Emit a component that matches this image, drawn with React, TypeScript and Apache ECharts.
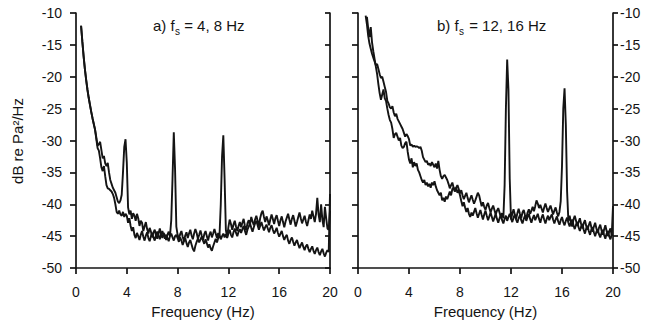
import React, { useEffect, useRef } from "react";
import * as echarts from "echarts";

// Frequency bins (Hz): 0.4 .. 20.0 in 0.1 Hz steps
const freq: number[] = [];
for (let i = 0; i < 197; i++) freq.push(Math.round((0.4 + 0.1 * i) * 10) / 10);

const xTicks = [0, 4, 8, 12, 16, 20];
const yTicks = [-50, -45, -40, -35, -30, -25, -20, -15, -10];

// Panel a) fs = 4, 8 Hz
const panelA1: (number | null)[] = [
  -12.0, -14.5, -16.8, -18.8, -20.5, -22.0,
  -23.3, -24.4, -25.5, -26.5, -27.4, -28.3, -29.5, -30.8, -30.6, -30.2,
  -31.5, -32.8, -32.4, -33.6, -34.0, -33.5, -35.0, -36.2, -36.8, -37.4,
  -37.8, -38.2, -38.9, -39.6, -39.8, -39.4, -38.5, -35.0, -31.0, -29.8,
  -33.5, -40.5, -41.6, -41.0, -42.3, -41.4, -41.8, -42.6, -41.5, -42.2,
  -43.4, -42.6, -42.9, -44.2, -43.5, -42.8, -43.9, -44.6, -43.7, -44.3,
  -45.2, -44.4, -44.0, -44.9, -45.4, -44.6, -43.8, -44.7, -45.3, -44.5,
  -44.9, -45.6, -44.8, -44.3, -45.0, -42.5, -36.0, -28.7, -34.5, -43.5,
  -44.8, -45.5, -44.7, -44.2, -45.1, -45.8, -44.9, -44.4, -45.3, -44.6,
  -44.0, -44.9, -45.5, -44.6, -43.9, -44.5, -45.4, -44.8, -44.1, -44.9,
  -45.6, -44.7, -44.2, -45.0, -45.7, -44.8, -44.3, -45.2, -44.6, -43.9,
  -44.6, -45.3, -44.5, -44.9, -40.0, -32.5, -29.2, -36.0, -44.0, -45.2,
  -43.6, -42.4, -43.1, -44.0, -43.2, -42.6, -43.5, -44.2, -43.4, -42.8,
  -43.6, -42.9, -42.3, -43.4, -44.1, -43.0, -42.5, -43.2, -42.0, -42.7,
  -43.3, -42.4, -41.8, -42.6, -43.4, -42.2, -41.4, -41.0, -42.0, -42.8,
  -41.9, -42.5, -43.3, -42.4, -41.6, -42.3, -43.1, -42.2, -41.7, -42.6,
  -43.4, -42.5, -41.9, -42.8, -43.6, -42.7, -42.1, -41.5, -42.4, -43.2,
  -42.3, -41.7, -42.6, -43.5, -42.8, -42.0, -41.3, -42.2, -43.0, -42.4,
  -41.8, -42.7, -43.4, -42.5, -41.6, -42.3, -41.0, -41.9, -42.8, -41.5,
  -39.0, -41.6, -42.8, -40.0, -42.4, -43.6, -40.4, -42.2, -43.8, -44.0,
  -41.0,
];

const panelA2: (number | null)[] = [
  -12.0, -14.5, -16.8, -18.8, -20.5, -22.0,
  -23.3, -24.4, -25.5, -26.5, -27.4, -28.3, -29.8, -31.2, -31.6, -32.8,
  -34.2, -34.8, -34.0, -35.6, -37.0, -37.5, -37.6, -37.8, -38.0, -38.4,
  -39.0, -40.0, -41.2, -41.5, -41.0, -41.6, -41.8, -41.2, -42.0, -41.5,
  -41.8, -42.9, -42.2, -43.4, -44.2, -43.6, -44.8, -45.3, -44.5, -45.0,
  -45.6, -44.8, -44.2, -45.1, -45.7, -44.9, -44.4, -45.3, -45.8, -45.0,
  -44.5, -45.2, -45.7, -44.8, -44.3, -44.9, -45.5, -44.7, -44.2, -44.9,
  -45.4, -44.8, -45.3, -45.8, -45.0, -44.6, -45.2, -45.7, -45.0, -44.8,
  -45.3, -45.9, -45.2, -45.7, -46.4, -45.8, -45.3, -46.1, -46.7, -46.0,
  -45.6, -46.3, -47.0, -47.4, -46.5, -45.9, -45.4, -46.0, -45.5, -45.1,
  -45.7, -46.2, -45.5, -46.1, -46.8, -46.3, -46.9, -47.3, -46.6, -46.0,
  -45.4, -46.0, -45.3, -44.8, -45.5, -45.0, -44.6, -45.2, -44.7, -45.3,
  -44.6, -44.0, -44.8, -45.2, -44.4, -43.8, -44.5, -45.0, -44.3, -43.9,
  -44.5, -43.9, -43.4, -44.2, -44.8, -44.0, -43.5, -43.0, -43.7, -44.3,
  -43.6, -43.0, -42.6, -43.3, -44.0, -43.4, -42.8, -43.5, -44.1, -43.6,
  -43.2, -43.8, -44.4, -43.7, -43.3, -44.0, -44.6, -44.2, -43.7, -44.5,
  -45.1, -44.6, -44.2, -45.0, -45.6, -45.1, -44.8, -45.7, -46.2, -45.6,
  -45.2, -45.9, -46.5, -46.0, -45.6, -46.3, -46.9, -46.4, -46.0, -46.7,
  -47.2, -46.6, -46.3, -47.0, -47.5, -47.0, -46.6, -47.3, -47.8, -47.2,
  -46.8, -47.5, -48.0, -47.4, -47.0, -47.7, -48.2, -47.6, -47.2, -47.5,
  -38.4,
];

// Panel b) fs = 12, 16 Hz
const panelB1: (number | null)[] = [
  null, null, -10.4, -11.8, -13.6, -14.8,
  -15.6, -16.4, -17.0, -17.6, -18.2, -18.0, -18.8, -19.6, -20.2, -20.0,
  -20.8, -21.6, -22.4, -23.8, -24.2, -24.8, -25.0, -24.6, -25.6, -26.2,
  -25.8, -26.6, -27.0, -27.4, -27.8, -28.2, -28.8, -29.4, -29.0, -29.3,
  -29.8, -30.8, -30.6, -31.0, -30.8, -31.0, -30.9, -31.0, -31.2, -31.0,
  -31.6, -32.6, -33.0, -33.4, -33.2, -33.8, -33.6, -34.0, -33.4, -33.8,
  -34.2, -33.6, -34.4, -33.2, -34.6, -35.6, -36.0, -35.6, -35.4, -35.8,
  -36.2, -36.8, -37.5, -37.0, -36.6, -37.4, -38.0, -37.4, -37.0, -37.6,
  -38.3, -37.8, -38.6, -39.2, -38.7, -38.2, -39.0, -39.7, -39.1, -38.6,
  -39.3, -39.9, -39.4, -38.8, -38.2, -38.6, -39.5, -40.3, -39.7, -40.4,
  -40.9, -40.2, -39.8, -40.6, -41.3, -40.7, -40.2, -40.9, -41.6, -41.0,
  -40.6, -41.3, -42.0, -41.4, -42.2, -37.0, -25.0, -17.3, -22.0, -36.0,
  -42.4, -41.5, -40.8, -41.6, -42.3, -41.4, -40.7, -41.5, -42.2, -41.3,
  -40.9, -41.7, -42.2, -41.3, -40.8, -41.5, -41.0, -40.4, -41.1, -40.3,
  -39.4, -39.9, -40.6, -40.1, -40.7, -41.3, -40.5, -39.9, -40.6, -41.2,
  -40.7, -40.2, -40.9, -41.6, -41.0, -40.5, -41.3, -41.9, -41.2, -39.5,
  -34.0, -25.0, -21.8, -27.5, -38.0, -42.6, -41.8, -42.9, -43.5, -42.4,
  -41.8, -42.6, -43.4, -42.8, -42.2, -43.1, -43.8, -43.0, -42.5, -43.4,
  -44.0, -43.3, -42.7, -43.6, -44.3, -43.5, -42.9, -43.8, -44.5, -43.7,
  -43.2, -44.1, -44.8, -44.0, -43.3, -44.2, -45.0, -44.3, -43.8, -44.9,
  -40.3,
];

const panelB2: (number | null)[] = [
  null, null, null, -10.6, -12.4, -13.8,
  -12.2, -14.6, -16.0, -17.2, -18.4, -19.6, -21.2, -22.6, -23.6, -22.8,
  -22.0, -23.4, -23.8, -25.0, -26.0, -26.8, -27.2, -28.2, -29.6, -29.0,
  -28.8, -29.4, -30.0, -29.6, -30.8, -31.2, -31.0, -30.4, -30.2, -31.8,
  -33.0, -33.6, -32.8, -34.2, -33.4, -34.0, -33.6, -34.6, -35.0, -35.6,
  -36.2, -36.6, -36.2, -37.0, -36.6, -37.2, -36.8, -37.4, -36.6, -37.0,
  -36.4, -37.2, -37.8, -38.2, -38.6, -38.2, -39.4, -39.0, -39.6, -38.8,
  -39.2, -38.6, -38.0, -38.6, -37.6, -37.4, -38.0, -37.4, -38.2, -37.8,
  -38.6, -39.5, -40.3, -39.7, -40.5, -41.2, -40.6, -41.5, -42.0, -41.3,
  -41.8, -41.2, -40.6, -41.4, -42.1, -41.5, -40.9, -41.7, -42.4, -41.6,
  -41.0, -41.8, -42.5, -41.9, -41.3, -42.0, -42.7, -42.1, -41.5, -42.3,
  -42.9, -42.2, -41.7, -42.5, -43.0, -42.3, -41.8, -42.6, -42.0, -41.5,
  -42.2, -42.8, -42.1, -41.6, -42.4, -42.9, -42.2, -41.7, -42.5, -43.0,
  -42.3, -41.8, -42.6, -42.0, -41.5, -42.3, -42.9, -42.2, -41.7, -42.5,
  -42.0, -41.5, -42.3, -42.9, -42.1, -41.6, -42.4, -43.0, -42.3, -41.8,
  -42.5, -42.0, -41.6, -42.4, -43.0, -42.4, -41.9, -42.7, -43.2, -42.5,
  -42.0, -42.8, -43.3, -42.6, -42.1, -42.9, -43.5, -42.8, -42.4, -43.3,
  -43.9, -43.2, -42.8, -43.6, -44.2, -43.5, -43.1, -44.0, -44.6, -43.8,
  -43.4, -44.2, -44.8, -44.0, -43.6, -44.4, -45.0, -44.3, -43.9, -44.7,
  -45.2, -44.5, -44.0, -44.8, -45.4, -44.6, -44.2, -45.0, -45.5, -44.8,
  -44.8,
];

const FONT = "'Liberation Sans', Arial, Helvetica, sans-serif";
const INK = "#141414";

function pairs(vals: (number | null)[]) {
  return freq.map((f, i) => [f, vals[i] ?? null]);
}

export default function App() {
  const ref = useRef<HTMLDivElement>(null);
  useEffect(() => {
    if (!ref.current) return;
    const chart = echarts.init(ref.current, undefined, { renderer: "svg" });
    const axisLine = { show: true, lineStyle: { color: INK, width: 1.7 } };
    const tickStyle = { color: INK, width: 1.7 };
    const xAxisBase = (gridIndex: number) => ({
      type: "value",
      gridIndex,
      min: xTicks[0],
      max: xTicks[xTicks.length - 1],
      interval: 4,
      splitLine: { show: false },
      axisLine,
      axisTick: { show: true, length: 6, lineStyle: tickStyle },
      axisLabel: { color: INK, fontSize: 14, fontFamily: FONT, margin: 17 },
      name: "Frequency (Hz)",
      nameLocation: "middle",
      nameGap: 31,
      nameTextStyle: { color: INK, fontSize: 15, fontFamily: FONT },
    });
    const yBase = {
      type: "value",
      min: yTicks[0],
      max: yTicks[yTicks.length - 1],
      interval: 5,
      splitLine: { show: false },
      axisLine,
    };
    const option: any = {
      animation: false,
      textStyle: { fontFamily: FONT },
      grid: [
        { left: 76, width: 254, top: 13, height: 255 },
        { left: 358, width: 255, top: 13, height: 255 },
      ],
      xAxis: [xAxisBase(0), xAxisBase(1)],
      yAxis: [
        {
          ...yBase,
          gridIndex: 0,
          position: "left",
          axisTick: { show: true, length: 6, lineStyle: tickStyle },
          axisLabel: { color: INK, fontSize: 14, fontFamily: FONT, margin: 14 },
        },
        {
          ...yBase,
          gridIndex: 0,
          position: "right",
          axisTick: { show: true, inside: true, length: 5, lineStyle: tickStyle },
          axisLabel: { show: false },
        },
        {
          ...yBase,
          gridIndex: 1,
          position: "left",
          axisTick: { show: true, length: 6, lineStyle: tickStyle },
          axisLabel: { show: false },
        },
        {
          ...yBase,
          gridIndex: 1,
          position: "right",
          axisTick: { show: true, length: 5, lineStyle: tickStyle },
          axisLabel: { color: INK, fontSize: 14, fontFamily: FONT, margin: 7 },
        },
      ],
      series: [
        { data: pairs(panelA1), xAxisIndex: 0, yAxisIndex: 0 },
        { data: pairs(panelA2), xAxisIndex: 0, yAxisIndex: 0 },
        { data: pairs(panelB1), xAxisIndex: 1, yAxisIndex: 3 },
        { data: pairs(panelB2), xAxisIndex: 1, yAxisIndex: 3 },
      ].map((s) => ({
        type: "line",
        showSymbol: false,
        symbol: "none",
        connectNulls: false,
        lineStyle: { color: INK, width: 1.9 },
        ...s,
      })),
      graphic: [
        {
          type: "text",
          x: 17,
          y: 141,
          rotation: Math.PI / 2,
          style: {
            text: "dB re Pa²/Hz",
            font: `15px ${FONT}`,
            fill: INK,
            textAlign: "center",
            textVerticalAlign: "middle",
          },
        },
        { type: "text", x: 153, y: 25, style: { text: "a) f", font: `15px ${FONT}`, fill: INK, textVerticalAlign: "middle" } },
        { type: "text", x: 175, y: 31, style: { text: "s", font: `10px ${FONT}`, fill: INK, textVerticalAlign: "middle" } },
        { type: "text", x: 180, y: 25, style: { text: " = 4, 8 Hz", font: `15px ${FONT}`, fill: INK, textVerticalAlign: "middle" } },
        { type: "text", x: 437, y: 25, style: { text: "b) f", font: `15px ${FONT}`, fill: INK, textVerticalAlign: "middle" } },
        { type: "text", x: 459, y: 31, style: { text: "s", font: `10px ${FONT}`, fill: INK, textVerticalAlign: "middle" } },
        { type: "text", x: 465, y: 25, style: { text: " = 12, 16 Hz", font: `15px ${FONT}`, fill: INK, textVerticalAlign: "middle" } },
      ],
    };
    chart.setOption(option);
    return () => chart.dispose();
  }, []);
  return (
    <div
      ref={ref}
      style={{ position: "fixed", left: 0, top: 0, width: 662, height: 325, background: "#fff" }}
    />
  );
}
